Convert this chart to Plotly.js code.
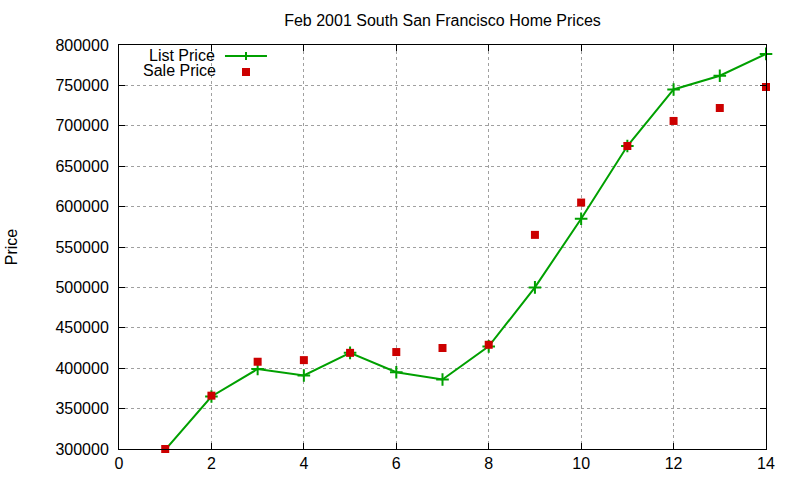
<!DOCTYPE html>
<html>
<head>
<meta charset="utf-8">
<script src="https://cdn.plot.ly/plotly-3.0.1.min.js"></script>
<style>html,body{margin:0;padding:0;background:#fff;}#chart{width:800px;height:480px;}</style>
</head>
<body>
<div id="chart"></div>
<script>
const houses = [1, 2, 3, 4, 5, 6, 7, 8, 9, 10, 11, 12, 13, 14];
const listPrice = [299000, 365000, 399000, 391000, 419000, 395000, 386000, 427000, 500000, 585000, 675000, 745000, 762000, 789000];
const salePrice = [300000, 366000, 408000, 410000, 419000, 420000, 425000, 429000, 565000, 605000, 675000, 706000, 722000, 748000];
const xTicks = [0, 2, 4, 6, 8, 10, 12, 14];
const yTicks = [300000, 350000, 400000, 450000, 500000, 550000, 600000, 650000, 700000, 750000, 800000];

const GREEN = '#00a000';
const RED = '#cc0000';
const FONT = '"Liberation Sans", Arial, sans-serif';

const traces = [
  {
    x: houses, y: listPrice, name: 'List Price', type: 'scatter', mode: 'lines+markers',
    line: {color: GREEN, width: 2},
    marker: {symbol: 'cross-thin-open', size: 9, color: GREEN, line: {color: GREEN, width: 2}},
    cliponaxis: false
  },
  {
    x: houses, y: salePrice, name: 'Sale Price', type: 'scatter', mode: 'markers',
    marker: {symbol: 'square', size: 8, color: RED, line: {width: 0}},
    cliponaxis: false
  }
];

const axisCommon = {
  showline: true, linecolor: '#000', linewidth: 1, mirror: 'ticks',
  ticks: 'inside', ticklen: 6, tickwidth: 1, tickcolor: '#000',
  showgrid: true, gridcolor: '#a0a0a0', gridwidth: 1, griddash: 'dot',
  zeroline: false, tickfont: {family: FONT, size: 16, color: '#000'}
};

const layout = {
  width: 800, height: 480,
  margin: {l: 119, r: 34, t: 45, b: 31},
  paper_bgcolor: '#fff', plot_bgcolor: '#fff',
  showlegend: false,
  font: {family: FONT, size: 16, color: '#000'},
  title: {text: 'Feb 2001 South San Francisco Home Prices', font: {family: FONT, size: 16, color: '#000'},
          x: 0.5, xref: 'paper', xanchor: 'center', y: 1 - 20/480, yref: 'container', yanchor: 'middle'},
  xaxis: Object.assign({}, axisCommon, {range: [0, 14], tickvals: xTicks, ticktext: xTicks.map(String), ticklabelstandoff: 0}),
  yaxis: Object.assign({}, axisCommon, {range: [300000, 800000], tickvals: yTicks, ticktext: yTicks.map(String), ticklabelstandoff: 6,
          title: {text: 'Price', font: {family: FONT, size: 16, color: '#000'}, standoff: 33}}),
  annotations: [
    {text: 'List Price', xref: 'paper', yref: 'paper', x: 0.1499, y: 0.9745, xanchor: 'right', yanchor: 'middle', showarrow: false, borderpad: 0, font: {family: FONT, size: 16, color: '#000'}},
    {text: 'Sale Price', xref: 'paper', yref: 'paper', x: 0.1515, y: 0.9364, xanchor: 'right', yanchor: 'middle', showarrow: false, borderpad: 0, font: {family: FONT, size: 16, color: '#000'}}
  ],
  shapes: [
    {type: 'line', xref: 'paper', yref: 'paper', x0: 0.1638, x1: 0.2287, y0: 0.9728, y1: 0.9728, line: {color: GREEN, width: 2}},
    {type: 'line', xref: 'paper', yref: 'paper', x0: 0.1963, x1: 0.1963, y0: 0.9827, y1: 0.9629, line: {color: GREEN, width: 2}},
    {type: 'rect', xref: 'paper', yref: 'paper', x0: 0.1901, x1: 0.2025, y0: 0.9431, y1: 0.9233, fillcolor: RED, line: {width: 0}}
  ]
};

Plotly.newPlot('chart', traces, layout, {displayModeBar: false, staticPlot: true});
</script>
</body>
</html>
